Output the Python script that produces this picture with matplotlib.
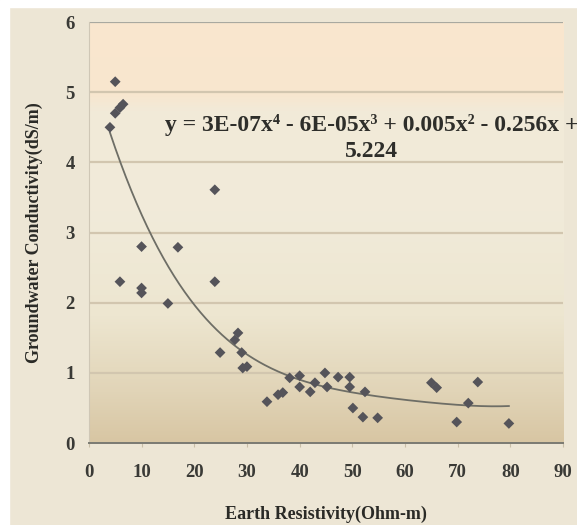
import numpy as np
import matplotlib
matplotlib.use("Agg")
import matplotlib.pyplot as plt
from matplotlib.colors import LinearSegmentedColormap
from matplotlib.patches import Rectangle

plt.rcParams['font.family'] = ['Liberation Serif', 'DejaVu Serif']

# Earth resistivity (Ohm-m) vs groundwater conductivity (dS/m)
resistivity = [4, 5, 5, 5.9, 6.5, 5.9, 10, 10, 10, 15, 16.9, 23.9, 23.9, 24.9,
               27.7, 28.3, 29, 29.2, 30, 33.8, 35.9, 36.8, 38.1, 40, 40, 42,
               42.9, 44.8, 45.2, 47.3, 49.5, 49.5, 52.4, 50.1, 52, 54.8,
               65, 66, 69.8, 72, 73.8, 79.7]
conductivity = [4.5, 5.15, 4.7, 4.78, 4.83, 2.3, 2.8, 2.21, 2.14, 1.99, 2.79, 3.61,
                2.3, 1.29, 1.47, 1.57, 1.29, 1.07, 1.09, 0.59, 0.69, 0.72, 0.93,
                0.96, 0.8, 0.73, 0.86, 1.0, 0.8, 0.94, 0.94, 0.8, 0.73, 0.5, 0.37,
                0.36, 0.86, 0.79, 0.3, 0.57, 0.87, 0.28]
equation = "y = 3E-07x\u2074 - 6E-05x\u00b3 + 0.005x\u00b2 - 0.256x +\n5.224"
x_ticks = list(range(0, 91, 10))
y_ticks = list(range(0, 7))

fig = plt.figure(figsize=(5.77, 5.25), dpi=100)
fig.patch.set_facecolor('#EDE6D5')
ax = fig.add_axes([0.154, 0.156, 0.822, 0.802])

# white frame strips at top and left of the picture
fig.patches.append(Rectangle((0, 0.987), 1, 0.013, transform=fig.transFigure,
                             color='white', zorder=0))
fig.patches.append(Rectangle((0, 0), 0.016, 1, transform=fig.transFigure,
                             color='white', zorder=0))

# background gradient of plot area
grad = LinearSegmentedColormap.from_list('bg', [
    (0.0, '#D8C6A3'), (0.12, '#E1D4B7'), (0.3, '#EDE6D0'), (0.55, '#F1EBDA'),
    (0.79, '#F2EAD8'), (0.83, '#F8E6CE'), (1.0, '#FAE7CF')])
ax.imshow(np.linspace(0, 1, 256).reshape(-1, 1), cmap=grad, aspect='auto',
          extent=[0, 90, 0, 6], origin='lower', zorder=0)

for yv in y_ticks[1:]:
    ax.axhline(yv, color='#A9A9A0' if yv == 6 else '#D2C6AF', lw=1.6, zorder=1)

ax.scatter(resistivity, conductivity, marker='D', s=30, color='#55545A',
           edgecolors='none', zorder=3)

# 4th order polynomial trend line
coef = np.polyfit(resistivity, conductivity, 4)
xs = np.linspace(min(resistivity), max(resistivity), 300)
ax.plot(xs, np.polyval(coef, xs), color='#6E6E66', lw=1.3, zorder=2)

ax.text(0.596, 0.724, equation, transform=ax.transAxes, ha='center', va='center',
        multialignment='center', fontsize=17, fontweight='bold', color='#2E2E2A',
        linespacing=1.3, clip_on=False, zorder=4)

ax.set_xlim(0, 90)
ax.set_ylim(0, 6)
ax.set_xticks(x_ticks)
ax.set_yticks(y_ticks)
ax.tick_params(axis='both', labelsize=13.5, colors='#2E2E2A', length=3, width=0.8)
ax.tick_params(axis='x', pad=12, color='#C9BFA8')
ax.tick_params(axis='y', length=0, pad=10)
for lbl in ax.get_xticklabels() + ax.get_yticklabels():
    lbl.set_fontweight('bold')
    lbl.set_color('#3A3A36')

for s in ['top', 'right']:
    ax.spines[s].set_visible(False)
ax.spines['left'].set_color('#CFC7B6')
ax.spines['bottom'].set_color('#7A7A72')
ax.spines['bottom'].set_linewidth(1.4)

ax.set_xlabel("Earth Resistivity(Ohm-m)", fontsize=13, fontweight='bold',
              color='#2A2A26', labelpad=18)
ax.set_ylabel("Groundwater Conductivity(dS/m)", fontsize=13, fontweight='bold',
              color='#2A2A26', labelpad=16)

fig.savefig("out.png", dpi=100, facecolor=fig.get_facecolor())
